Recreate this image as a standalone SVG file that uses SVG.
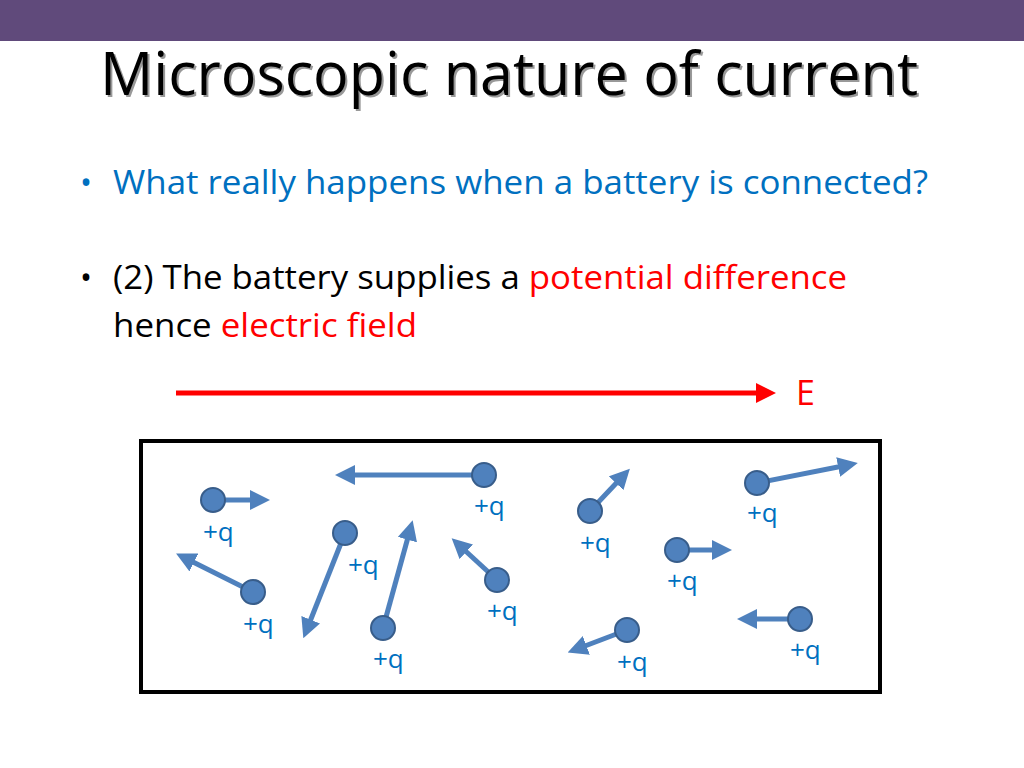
<svg xmlns="http://www.w3.org/2000/svg" width="1024" height="768" viewBox="0 0 1024 768">
<defs>
<style>
.t{font-family:"Open Sans","Liberation Sans",sans-serif}
.q{font-family:"Open Sans","Liberation Sans",sans-serif;font-size:26px;fill:#0070c0}
.p{fill:#4f81bd;stroke:#385d8a;stroke-width:2}
.a{stroke:#4f81bd;stroke-width:5;fill:none;marker-end:url(#ah)}
</style>
<marker id="ah" markerWidth="4" markerHeight="4" refX="2" refY="2" orient="auto" markerUnits="strokeWidth"><path d="M0,0L4,2L0,4z" fill="#4f81bd"/></marker>
<marker id="rh" markerWidth="4" markerHeight="4" refX="2" refY="2" orient="auto" markerUnits="strokeWidth"><path d="M0,0L4,2L0,4z" fill="#ff0000"/></marker>
</defs>
<rect width="1024" height="768" fill="#fff"/>
<rect width="1024" height="41" fill="#604a7b"/>
<text class="t" x="102" y="97" font-size="60" fill="#999" textLength="818" lengthAdjust="spacingAndGlyphs">Microscopic nature of current</text>
<text class="t" x="100" y="95" font-size="60" fill="#000" textLength="818" lengthAdjust="spacingAndGlyphs">Microscopic nature of current</text>
<text class="t" x="80" y="194" font-size="32" fill="#0070c0">•</text>
<text class="t" x="113" y="194" font-size="32" fill="#0070c0" textLength="815" lengthAdjust="spacingAndGlyphs">What really happens when a battery is connected?</text>
<text class="t" x="80" y="289" font-size="32" fill="#000">•</text>
<text class="t" x="113" y="289" font-size="32" fill="#000" textLength="734" lengthAdjust="spacingAndGlyphs">(2) The battery supplies a <tspan fill="#ff0000">potential difference</tspan></text>
<text class="t" x="113" y="337" font-size="32" fill="#000" textLength="304" lengthAdjust="spacingAndGlyphs">hence <tspan fill="#ff0000">electric field</tspan></text>
<g id="efield">
<line x1="176" y1="393" x2="766" y2="393" stroke="#ff0000" stroke-width="5" marker-end="url(#rh)"/>
<text class="t" x="796" y="405" font-size="34" fill="#ff0000">E</text>
</g>
<rect id="box" x="141" y="441" width="739" height="251" fill="none" stroke="#000" stroke-width="4"/>
<g id="connectors">
<line class="a" x1="213" y1="500" x2="260" y2="500"/>
<line class="a" x1="253" y1="592" x2="185" y2="558"/>
<line class="a" x1="345" y1="533" x2="307" y2="629"/>
<line class="a" x1="383" y1="628" x2="410" y2="530"/>
<line class="a" x1="484" y1="475" x2="345" y2="475"/>
<line class="a" x1="497" y1="580" x2="459" y2="545"/>
<line class="a" x1="590" y1="511" x2="623" y2="476"/>
<line class="a" x1="627" y1="630" x2="577" y2="649"/>
<line class="a" x1="677" y1="550" x2="722" y2="550"/>
<line class="a" x1="757" y1="483" x2="848" y2="465"/>
<line class="a" x1="800" y1="619" x2="747" y2="619"/>
</g>
<g id="n1"><circle class="p" cx="213" cy="500" r="12"/><text class="q" x="203" y="541">+q</text></g>
<g id="n2"><circle class="p" cx="253" cy="592" r="12"/><text class="q" x="243" y="633">+q</text></g>
<g id="n3"><circle class="p" cx="345" cy="533" r="12"/><text class="q" x="348" y="574">+q</text></g>
<g id="n4"><circle class="p" cx="383" cy="628" r="12"/><text class="q" x="373" y="668">+q</text></g>
<g id="n5"><circle class="p" cx="484" cy="475" r="12"/><text class="q" x="474" y="515">+q</text></g>
<g id="n6"><circle class="p" cx="497" cy="580" r="12"/><text class="q" x="487" y="620">+q</text></g>
<g id="n7"><circle class="p" cx="590" cy="511" r="12"/><text class="q" x="580" y="552">+q</text></g>
<g id="n8"><circle class="p" cx="627" cy="630" r="12"/><text class="q" x="617" y="671">+q</text></g>
<g id="n9"><circle class="p" cx="677" cy="550" r="12"/><text class="q" x="667" y="590">+q</text></g>
<g id="n10"><circle class="p" cx="757" cy="483" r="12"/><text class="q" x="747" y="522">+q</text></g>
<g id="n11"><circle class="p" cx="800" cy="619" r="12"/><text class="q" x="790" y="659">+q</text></g>
</svg>
